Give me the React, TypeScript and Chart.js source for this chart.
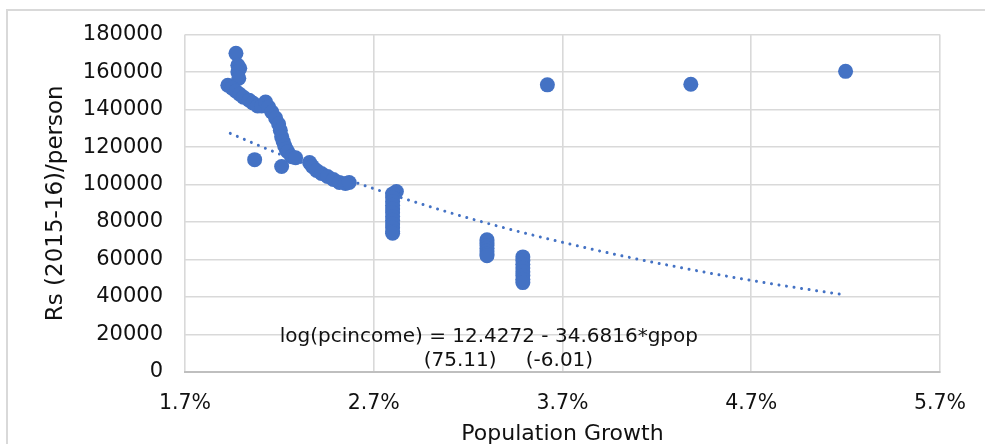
import React, { useEffect, useRef } from 'react';
import { Chart, registerables } from 'chart.js';

Chart.register(...registerables);

// Population growth (%), one entry per observation
const POP_GROWTH = [
  1.97, 1.98, 1.99, 1.98, 1.985, 1.927, 1.95, 1.97, 1.99, 2.01,
  2.04, 2.06, 2.085, 2.106, 2.127, 2.143, 2.16, 2.18, 2.196, 2.205,
  2.212, 2.22, 2.228, 2.236, 2.244, 2.265, 2.286, 2.069, 2.212,
  2.36, 2.375, 2.397, 2.423, 2.455, 2.486, 2.518, 2.55, 2.57,
  2.82, 2.8, 2.8, 2.8, 2.8, 2.8, 2.8, 2.8, 2.8, 2.8, 2.8, 2.8, 2.8,
  3.3, 3.3, 3.3, 3.3, 3.3, 3.3, 3.3,
  3.49, 3.49, 3.49, 3.49, 3.49, 3.49, 3.49, 3.49,
  3.62, 4.38, 5.2,
];
// Per-capita income, Rs (2015-16)/person
const INCOME = [
  170000, 163600, 162000, 160000, 156700, 153000, 151400, 149800, 148200, 146600,
  145000, 143500, 141900, 141900, 144000, 141300, 138700, 135500, 132300, 129000,
  125500, 123000, 120700, 119000, 117500, 114900, 114300, 113300, 109600,
  111700, 109600, 107500, 105900, 104300, 102700, 101100, 100600, 101100,
  96300, 95000, 93000, 91000, 89000, 87000, 85000, 83000, 81000, 79000, 77000, 75000, 74000,
  70500, 69000, 67500, 66000, 64500, 63000, 62000,
  61400, 59500, 57500, 55500, 53500, 51500, 49500, 47700,
  153200, 153500, 160400,
];
// Exponential trendline read along its dotted path
const TREND_X = [1.94, 2.2, 2.5, 2.8, 3.1, 3.4, 3.7, 4.0, 4.3, 4.6, 4.9, 5.18];
const TREND_Y = [127300, 116300, 104800, 94500, 85100, 76700, 69200, 62300, 56200, 50600, 45600, 41400];

const X_TICKS = [1.7, 2.7, 3.7, 4.7, 5.7];
const Y_MIN = 0;
const Y_MAX = 180000;
const Y_STEP = 20000;

const X_TITLE = 'Population Growth';
const Y_TITLE = 'Rs (2015-16)/person';
const EQ_LINE = 'log(pcincome) = 12.4272 - 34.6816*gpop';
const EQ_T_CONST = '(75.11)';
const EQ_T_SLOPE = '(-6.01)';
// anchors of the equation text in data units [x%, y]
const EQ_LINE_AT = [3.31, 15900];
const EQ_T_CONST_AT = [3.158, 3200];
const EQ_T_SLOPE_AT = [3.684, 3200];

const FONT = "'DejaVu Sans', sans-serif";
const BLUE = '#4472C4';
const GRID = '#d9d9d9';
const TEXT = '#111111';

const framePlugin = {
  id: 'frame',
  beforeDraw(chart: any) {
    const ctx = chart.ctx;
    ctx.save();
    ctx.fillStyle = '#ffffff';
    ctx.fillRect(0, 0, chart.width, chart.height);
    ctx.strokeStyle = GRID;
    ctx.lineWidth = 2;
    ctx.beginPath();
    ctx.moveTo(7, chart.height);
    ctx.lineTo(7, 10);
    ctx.lineTo(chart.width, 10);
    ctx.stroke();
    ctx.restore();
  },
};

const equationPlugin = {
  id: 'equation',
  afterDraw(chart: any) {
    const ctx = chart.ctx;
    const xs = chart.scales.x;
    const ys = chart.scales.y;
    ctx.save();
    ctx.fillStyle = TEXT;
    ctx.font = `20px ${FONT}`;
    ctx.textAlign = 'center';
    ctx.textBaseline = 'alphabetic';
    ctx.fillText(EQ_LINE, xs.getPixelForValue(EQ_LINE_AT[0]), ys.getPixelForValue(EQ_LINE_AT[1]));
    ctx.fillText(EQ_T_CONST, xs.getPixelForValue(EQ_T_CONST_AT[0]), ys.getPixelForValue(EQ_T_CONST_AT[1]));
    ctx.fillText(EQ_T_SLOPE, xs.getPixelForValue(EQ_T_SLOPE_AT[0]), ys.getPixelForValue(EQ_T_SLOPE_AT[1]));
    ctx.restore();
  },
};

export default function App() {
  const ref = useRef<HTMLCanvasElement | null>(null);

  useEffect(() => {
    if (!ref.current) return;
    const points = POP_GROWTH.map((x, i) => ({ x, y: INCOME[i] }));
    const trend = TREND_X.map((x, i) => ({ x, y: TREND_Y[i] }));
    const chart = new Chart(ref.current, {
      type: 'scatter',
      data: {
        datasets: [
          {
            label: 'pcincome',
            data: points,
            pointRadius: 7.5,
            pointHoverRadius: 7.5,
            pointBackgroundColor: BLUE,
            pointBorderWidth: 0,
            borderColor: BLUE,
            showLine: false,
          },
          {
            label: 'trend',
            data: trend,
            showLine: true,
            pointRadius: 0,
            borderColor: BLUE,
            borderWidth: 3,
            borderDash: [0.01, 7.6],
            borderCapStyle: 'round',
            cubicInterpolationMode: 'monotone',
            fill: false,
          } as any,
        ],
      },
      options: {
        animation: false,
        responsive: false,
        devicePixelRatio: 1,
        layout: { padding: { top: 32, right: 42, left: 0, bottom: 0 } },
        plugins: {
          legend: { display: false },
          tooltip: { enabled: false },
        },
        scales: {
          x: {
            type: 'linear',
            min: X_TICKS[0],
            max: X_TICKS[X_TICKS.length - 1],
            afterBuildTicks: (scale: any) => {
              scale.ticks = X_TICKS.map((v) => ({ value: v }));
            },
            afterFit: (scale: any) => {
              scale.height = 72;
            },
            grid: { color: GRID, lineWidth: 1.6, drawTicks: false },
            border: { display: true, color: '#bfbfbf', width: 2 },
            ticks: {
              color: TEXT,
              padding: 19,
              font: { family: FONT, size: 20.5, lineHeight: 1.2 },
              callback: (v: any) => `${Number(v).toFixed(1)}%`,
              maxRotation: 0,
            },
            title: {
              display: true,
              text: X_TITLE,
              color: TEXT,
              font: { family: FONT, size: 22, lineHeight: 0.8 },
              padding: { top: 0, bottom: 1 },
            },
          },
          y: {
            type: 'linear',
            min: Y_MIN,
            max: Y_MAX,
            afterFit: (scale: any) => {
              scale.width = 185;
            },
            grid: { color: GRID, lineWidth: 1.6, drawTicks: false },
            border: { display: false },
            ticks: {
              stepSize: Y_STEP,
              color: TEXT,
              padding: 22,
              font: { family: FONT, size: 21 },
              callback: (v: any) => String(v),
            },
            title: {
              display: true,
              text: Y_TITLE,
              color: TEXT,
              font: { family: FONT, size: 23, lineHeight: 1.2 },
              padding: { top: 42, bottom: 0 },
            },
          },
        },
      },
      plugins: [framePlugin, equationPlugin],
    });
    return () => chart.destroy();
  }, []);

  return (
    <div style={{ position: 'absolute', left: 0, top: 0, width: 985, height: 444 }}>
      <canvas ref={ref} width={985} height={444} style={{ display: 'block' }} />
    </div>
  );
}
